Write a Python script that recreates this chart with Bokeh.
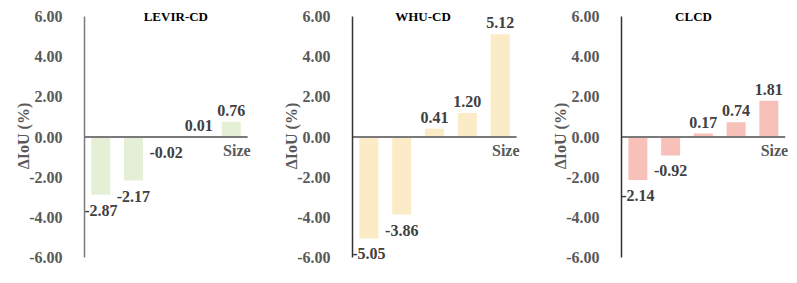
from bokeh.plotting import figure
from bokeh.layouts import row
from bokeh.models import ColumnDataSource, Label, FixedTicker, CustomJSTickFormatter, Range1d
from bokeh.embed import file_html
from bokeh.resources import INLINE
from bokeh.core.properties import value

categories = ["1", "2", "3", "4", "5"]
titles = ["LEVIR-CD", "WHU-CD", "CLCD"]
levir = [-2.87, -2.17, -0.02, 0.01, 0.76]
whu = [-5.05, -3.86, 0.41, 1.20, 5.12]
clcd = [-2.14, -0.92, 0.17, 0.74, 1.81]
ticks = [-6, -4, -2, 0, 2, 4, 6]
colors = ["#E5EFD5", "#FCEBC7", "#F7C0B8"]
axis_colors = ["#7A7A7A", "#333333", "#333333"]
title_pos = [3.3, 2.65, 2.7]

FONT = "Liberation Serif"
series = [levir, whu, clcd]
widths = [275, 269, 244]
left_borders = [84, 77, 77]
extra = [0.15, 0.15, 0.1]
borders_right = [23, 23, 0]

n = len(categories)
xs = list(range(1, n + 1))

figs = []
for i, (vals, title) in enumerate(zip(series, titles)):
    p = figure(width=widths[i], height=267,
               x_range=Range1d(0.5, n + 0.5 + extra[i]),
               y_range=Range1d(-6.4, 6.5), output_backend="svg",
               toolbar_location=None, min_border_left=left_borders[i],
               min_border_right=borders_right[i], min_border_top=6,
               min_border_bottom=2)
    p.outline_line_color = None
    p.grid.visible = False
    p.xaxis.visible = False
    p.background_fill_color = None
    p.border_fill_color = None

    src = ColumnDataSource(dict(x=xs, top=vals))
    p.vbar(x="x", top="top", bottom=0, width=0.58, source=src,
           fill_color=colors[i], line_color=None)

    # horizontal category axis crossing at zero
    p.segment(x0=[0.5], y0=[0], x1=[n + 0.5], y1=[0],
              line_color="#7A7A7A", line_width=2)

    neg = dict(x=[x for x, v in zip(xs, vals) if v < 0],
               y=[v for v in vals if v < 0],
               t=["%.2f" % v for v in vals if v < 0])
    pos = dict(x=[x for x, v in zip(xs, vals) if v >= 0],
               y=[v for v in vals if v >= 0],
               t=["%.2f" % v for v in vals if v >= 0])
    p.text(x="x", y="y", text="t", source=ColumnDataSource(neg),
           text_align="center", text_baseline="top", y_offset=10,
           text_font=value(FONT), text_font_style="bold",
           text_font_size="16px", text_color="#404040")
    p.text(x="x", y="y", text="t", source=ColumnDataSource(pos),
           text_align="center", text_baseline="bottom", y_offset=-6,
           text_font=value(FONT), text_font_style="bold",
           text_font_size="16px", text_color="#404040")

    p.add_layout(Label(x=title_pos[i], y=6, text=title,
                       text_align="center", text_baseline="middle",
                       text_font=FONT, text_font_style="bold",
                       text_font_size="13px", text_color="#000000"))
    p.add_layout(Label(x=n + 0.5, y=0, x_offset=3, y_offset=-5, text="Size",
                       text_align="right", text_baseline="top",
                       text_font=FONT, text_font_style="bold",
                       text_font_size="16px", text_color="#595959"))

    ya = p.yaxis[0]
    ya.bounds = (-6, 6)
    ya.ticker = FixedTicker(ticks=ticks)
    ya.formatter = CustomJSTickFormatter(code="return tick.toFixed(2);")
    ya.major_tick_line_color = None
    ya.minor_tick_line_color = None
    ya.axis_line_color = axis_colors[i]
    ya.axis_line_width = 1.5
    ya.major_label_text_font = FONT
    ya.major_label_text_font_style = "bold"
    ya.major_label_text_font_size = "16px"
    ya.major_label_text_color = "#595959"
    ya.major_label_standoff = 16
    ya.axis_label = "ΔIoU (%)"
    ya.axis_label_text_font = FONT
    ya.axis_label_text_font_style = "bold"
    ya.axis_label_text_font_size = "16px"
    ya.axis_label_text_color = "#595959"
    ya.axis_label_standoff = -6
    figs.append(p)

layout = row(*figs, spacing=0)
open("out.html", "w").write(file_html(layout, INLINE))
